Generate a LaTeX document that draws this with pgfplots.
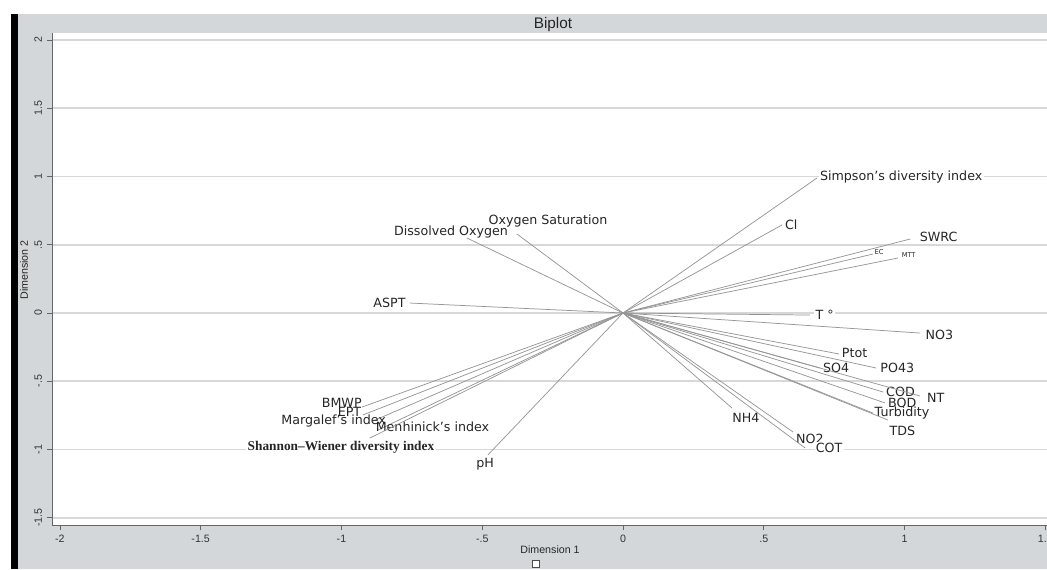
\documentclass[border=0pt]{standalone}
\usepackage{pgfplots}
\pgfplotsset{compat=1.18}
\usepackage{fontspec}
\setmainfont{Liberation Sans}
\newfontfamily\lab{DejaVu Sans}
\newfontfamily\tms{Liberation Serif}
\definecolor{bg}{RGB}{212,215,218}
\definecolor{vecc}{RGB}{150,150,150}
\definecolor{gridc}{RGB}{216,216,216}
\pgfplotsset{
  vec/.style={vecc, line width=0.55pt, no marks},
}
\tikzset{
  lbl/.style={font=\lab\fontsize{9.5}{11}\selectfont, inner sep=1pt, text=black!85},
  lblsm/.style={font=\lab\fontsize{5}{6}\selectfont, inner sep=0.5pt, text=black!85},
}
\begin{document}
\begin{tikzpicture}
\useasboundingbox (0pt,0pt) rectangle (785.25pt,426.75pt);
\fill[white] (0pt,0pt) rectangle (785.25pt,426.75pt);
\fill[bg] (13.5pt,0pt) rectangle (785.25pt,416.25pt);
\fill[black] (8.25pt,0pt) rectangle (13.5pt,416.25pt);
\node[font=\fontsize{11.5}{13}\selectfont, text=black!85] at (414.75pt,408.5pt) {Biplot};
\node[font=\fontsize{8}{9}\selectfont, text=black!85, rotate=90] at (18pt,224.25pt) {Dimension 2};
\node[font=\fontsize{8}{9}\selectfont, text=black!85] at (412.5pt,14.25pt) {Dimension 1};
\draw[black!70, line width=0.6pt, fill=white] (399.5pt,1.25pt) rectangle (404.5pt,6.25pt);
\begin{axis}[
  at={(467.25pt,192pt)}, anchor=origin,
  scale only axis, width=746.25pt, height=369pt,
  xmin=-2.028, xmax=1.506, ymin=-1.553, ymax=2.051,
  xtick={-2,-1.5,-1,-0.5,0,0.5,1,1.5},
  xticklabels={-2,-1.5,-1,-.5,0,.5,1,1.5},
  ytick={-1.5,-1,-0.5,0,0.5,1,1.5,2},
  yticklabels={-1.5,-1,-.5,0,.5,1,1.5,2},
  yticklabel style={rotate=90, anchor=south},
  ymajorgrids, grid style={gridc, line width=1.2pt},
  axis x line*=bottom, axis y line*=left,
  axis line style={black!60, line width=0.6pt, -},
  tick align=outside, major tick length=4pt,
  tick style={black!60, line width=0.5pt},
  ticklabel style={font=\fontsize{8}{9}\selectfont, text=black!80},
  /pgf/number format/assume math mode=true,
  axis background/.style={fill=white},
  clip=false,
]
% right side
\addplot[vec] coordinates {(0,0) (0.689,0.989)} node[pos=1,anchor=west,lbl,fill=white,xshift=1pt,yshift=1pt]{Simpson’s diversity index};
\addplot[vec] coordinates {(0,0) (0.565,0.645)} node[pos=1,anchor=west,lbl,xshift=1pt]{Cl};
\addplot[vec] coordinates {(0,0) (1.020,0.542)} node[pos=1,anchor=west,lbl,fill=white,xshift=6pt,yshift=1.5pt]{SWRC};
\addplot[vec] coordinates {(0,0) (0.888,0.432)} node[pos=1,anchor=west,lblsm,xshift=0.5pt,yshift=1.5pt]{EC};
\addplot[vec] coordinates {(0,0) (0.977,0.403)} node[pos=1,anchor=west,lblsm,xshift=2pt,yshift=2.5pt]{MTT};
\addplot[vec] coordinates {(0,0) (0.664,-0.015)} node[pos=1,anchor=west,lbl,fill=white,xshift=3pt]{T °};
\addplot[vec] coordinates {(0,0) (1.055,-0.147)} node[pos=1,anchor=west,lbl,xshift=3pt,yshift=-1.5pt]{NO3};
\addplot[vec] coordinates {(0,0) (0.767,-0.300)} node[pos=1,anchor=west,lbl,xshift=1pt,yshift=1pt]{Ptot};
\addplot[vec] coordinates {(0,0) (0.899,-0.403)} node[pos=1,anchor=west,lbl,xshift=2pt]{PO43};
\addplot[vec] coordinates {(0,0) (0.700,-0.403)} node[pos=1,anchor=west,lbl,xshift=1pt]{SO4};
\addplot[vec] coordinates {(0,0) (0.924,-0.579)} node[pos=1,anchor=west,lbl,xshift=1pt]{COD};
\addplot[vec] coordinates {(0,0) (1.055,-0.608)} node[pos=1,anchor=west,lbl,xshift=4pt,yshift=-1.5pt]{NT};
\addplot[vec] coordinates {(0,0) (0.931,-0.659)} node[pos=1,anchor=west,lbl,xshift=1pt]{BOD};
\addplot[vec] coordinates {(0,0) (0.888,-0.733)} node[pos=1,anchor=west,lbl]{Turbidity};
\addplot[vec] coordinates {(0,0) (0.941,-0.784)} node[pos=1,anchor=north west,lbl,yshift=-3pt]{TDS};
\addplot[vec] coordinates {(0,0) (0.387,-0.696)} node[pos=1,anchor=north west,lbl,xshift=-1pt,yshift=-3pt]{NH4};
\addplot[vec] coordinates {(0,0) (0.604,-0.872)} node[pos=1,anchor=north west,lbl,xshift=1pt]{NO2};
\addplot[vec] coordinates {(0,0) (0.647,-0.989)} node[pos=1,anchor=west,lbl,fill=white,xshift=6.75pt]{COT};
% left side
\addplot[vec] coordinates {(0,0) (-0.757,0.073)} node[pos=1,anchor=east,lbl,xshift=-2pt]{ASPT};
\addplot[vec] coordinates {(0,0) (-0.554,0.549)} node[pos=1,anchor=south east,lbl,xshift=32pt,yshift=-1pt]{Dissolved Oxygen};
\addplot[vec] coordinates {(0,0) (-0.377,0.579)} node[pos=1,anchor=south west,lbl,xshift=-22.5pt,yshift=4pt]{Oxygen Saturation};
\addplot[vec] coordinates {(0,0) (-0.927,-0.689)} node[pos=1,anchor=south east,lbl,xshift=1pt,yshift=-1.5pt]{BMWP};
\addplot[vec] coordinates {(0,0) (-0.924,-0.747)} node[pos=1,anchor=east,lbl,yshift=2.25pt]{EPT};
\addplot[vec] coordinates {(0,0) (-0.888,-0.791)} node[pos=1,anchor=east,lbl,xshift=11pt]{Margalef’s index};
\addplot[vec] coordinates {(0,0) (-0.870,-0.857)} node[pos=1,anchor=west,lbl,xshift=-3pt,yshift=2.25pt]{Menhinick’s index};
\addplot[vec] coordinates {(0,0) (-0.899,-0.916)} node[pos=1,anchor=east,fill=white,inner sep=1pt,font=\tms\bfseries\fontsize{10}{12}\selectfont,text=black!85,xshift=49.5pt,yshift=-6.75pt]{Shannon–Wiener diversity index};
\addplot[vec] coordinates {(0,0) (-0.480,-1.040)} node[pos=1,anchor=north,lbl,xshift=-2pt,yshift=-1pt]{pH};
\end{axis}
\end{tikzpicture}
\end{document}
